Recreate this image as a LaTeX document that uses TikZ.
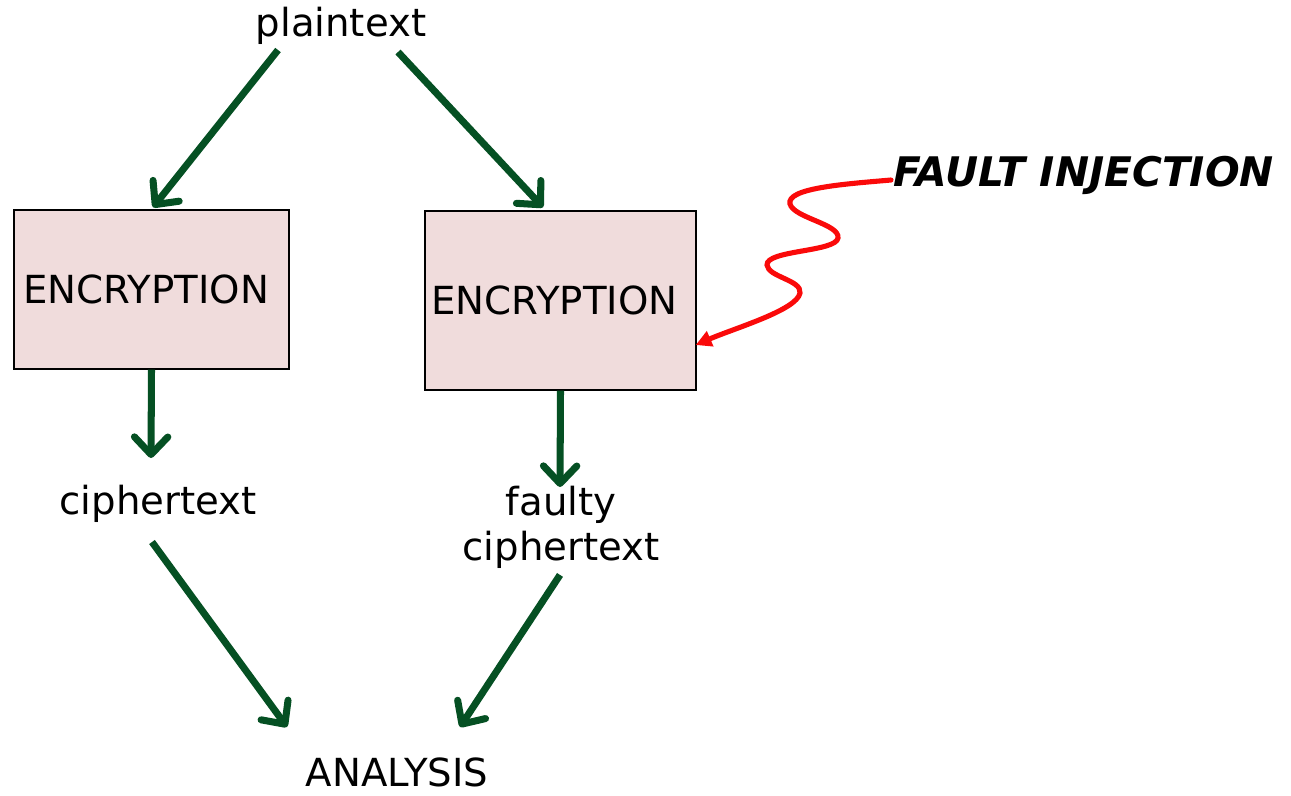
\documentclass[tikz,border=0pt]{standalone}
\usepackage{fontspec}
\setmainfont{DejaVu Sans}
\usetikzlibrary{arrows.meta,calc}
\definecolor{arrgreen}{RGB}{5,80,35}
\definecolor{boxpink}{RGB}{240,220,220}
\definecolor{faultred}{RGB}{250,10,10}
\begin{document}
\begin{tikzpicture}[x=0.02cm,y=-0.02cm,
  every node/.style={font=\fontsize{22pt}{25.5pt}\selectfont},
  lbl/.style={inner sep=0pt},
  encbox/.style={draw=black,line width=0.8pt,fill=boxpink,inner sep=0pt},
  flow/.style={draw=arrgreen,line width=4pt,-{Straight Barb[length=10pt,width=19pt,round]}},
  fault/.style={draw=faultred,line width=2.9pt,line cap=round,-{Triangle[length=9pt,width=9pt]}}]
\useasboundingbox (0,0) rectangle (1291,795);

\node[lbl,anchor=base] (pt) at (341,36) {plaintext};
\node[encbox,minimum width=5.5cm,minimum height=3.18cm] (b1) at (151.5,289.5) {ENCRYPTION\hspace*{6pt}};
\node[encbox,minimum width=5.42cm,minimum height=3.58cm] (b2) at (560.5,300.5) {ENCRYPTION\hspace*{7pt}};
\node[lbl,anchor=base] (ct) at (158,514) {ciphertext};
\node[lbl,anchor=north,align=center] (fc) at (561,486) {faulty\\ciphertext};
\node[lbl,anchor=base] (an) at (397,786) {ANALYSIS};
\node[lbl,anchor=base west,font=\fontsize{23.2pt}{26pt}\selectfont\bfseries\itshape] (fi) at (893,186) {FAULT INJECTION};

\draw[flow] ($(pt.base)+(-63,14)$) -- ($(b1.north)+(1.5,-2)$);
\draw[flow] ($(pt.base)+(57,16)$) -- ($(b2.north)+(-17.5,-3)$);
\draw[flow] (b1.south) -- ($(ct.base)+(-7,-56)$);
\draw[flow] (b2.south) -- ($(fc.north)+(-1,1)$);
\draw[flow] ($(ct.base)+(-6,28)$) -- ($(an.base)+(-110,-59)$);
\draw[flow] ($(fc.south)+(-1,6)$) -- ($(an.base)+(63,-59)$);

\draw[fault] ($(fi.base west)+(-2,-6)$)
  .. controls (845,184) and (786,188) .. (790,204)
  .. controls (794,218) and (840,224) .. (838,238)
  .. controls (836,252) and (766,250) .. (767,265)
  .. controls (768,277) and (802,280) .. (800,293)
  .. controls (797,310) and (735,328) .. ($(b2.east)+(-1,44.5)$);
\end{tikzpicture}
\end{document}
